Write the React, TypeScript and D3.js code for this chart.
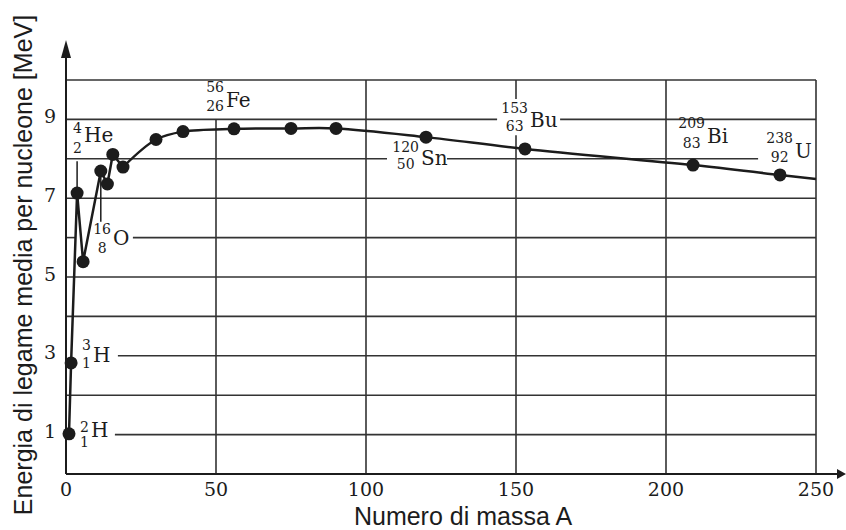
import React from 'react';
import * as d3 from 'd3';

// ---- data ----
const massNumbers = [1, 1.7, 3.7, 5.7, 11.6, 13.8, 15.6, 19, 30, 39, 56, 75, 90, 120, 153, 209, 238];
const bindingEnergy = [1.02, 2.82, 7.13, 5.39, 7.69, 7.36, 8.11, 7.79, 8.49, 8.69, 8.76, 8.77, 8.77, 8.55, 8.25, 7.84, 7.59];
const curveEndMass = 250;
const curveEndEnergy = 7.49;
const jaggedCount = 8; // light nuclei joined by straight segments

const xTicks = [0, 50, 100, 150, 200, 250];
const yTickLabels = [1, 3, 5, 7, 9];

// nuclide labels: anchor (mass, energy) of the symbol baseline start
const nuclideSymbols = ['H', 'H', 'He', 'O', 'Fe', 'Sn', 'Bu', 'Bi', 'U'];
const nuclideMass = ['2', '3', '4', '16', '56', '120', '153', '209', '238'];
const nuclideZ = ['1', '1', '2', '8', '26', '50', '63', '83', '92'];
const labelAnchorA = [8.33, 9, 6, 15.67, 53.33, 118.33, 154.67, 213.67, 243];
const labelAnchorB = [0.94, 2.84, 8.43, 5.81, 9.31, 7.84, 8.81, 8.4, 8.02];
const supDy = [-5, -12, -9, -11, -15, -13, -14, -15, -15];
const subDy = [10, 6, 11, 8, 4, 4, 4, 5, 4];

// gridline segments in data units
const hGridValues = [1, 2, 3, 4, 5, 6, 7, 8, 9, 10];
const hGridSegments: number[][][] = [
  [[16.3, 250]],
  [[0, 250]],
  [[17.3, 250]],
  [[0, 250]],
  [[0, 250]],
  [[0, 3.3], [22.3, 250]],
  [[0, 250]],
  [[0, 107], [127, 230.7]],
  [[0, 143.7], [164.7, 250]],
  [[0, 250]],
];
const vGridValues = [50, 100, 150, 200, 250];
const vGridSegments: number[][][] = [
  [[0, 9]],
  [[0, 10]],
  [[0, 8.6], [9.52, 10]],
  [[0, 10]],
  [[0, 10]],
];
// leader lines: [mass, energyFrom, energyTo]
const leaders = [
  [3.7, 7.13, 7.94],
  [11.6, 7.69, 6.4],
];

export default function App() {
  const W = 846, H = 530;
  const x = d3.scaleLinear().domain([0, 250]).range([66, 816]);
  const y = d3.scaleLinear().domain([0, 10]).range([474, 80]);

  const pts: [number, number][] = massNumbers.map((a, i) => [a, bindingEnergy[i]]);
  const jagged = pts.slice(0, jaggedCount);
  const smooth = [...pts.slice(jaggedCount - 1), [curveEndMass, curveEndEnergy] as [number, number]];
  const lineLin = d3.line<[number, number]>().x(d => x(d[0])).y(d => y(d[1])).curve(d3.curveLinear);
  const lineSm = d3.line<[number, number]>().x(d => x(d[0])).y(d => y(d[1])).curve(d3.curveCatmullRom.alpha(0.5));

  const gridColor = '#333';
  const ink = '#1c1c1c';
  const serif = '"DejaVu Serif", serif';
  const sans = '"Liberation Sans", Arial, sans-serif';
  const supFs = 14;
  const symFs = 20;

  return (
    <svg width={W} height={H} style={{ position: 'absolute', left: 0, top: 0, background: '#fff' }}>
      <rect x={0} y={0} width={W} height={H} fill="#fff" />
      {/* horizontal grid */}
      {hGridValues.map((v, i) =>
        hGridSegments[i].map((s, j) => (
          <line key={`h${i}-${j}`} x1={x(s[0])} x2={x(s[1])} y1={y(v)} y2={y(v)} stroke={gridColor} strokeWidth={1.6} />
        ))
      )}
      {/* vertical grid */}
      {vGridValues.map((v, i) =>
        vGridSegments[i].map((s, j) => (
          <line key={`v${i}-${j}`} x1={x(v)} x2={x(v)} y1={y(s[0])} y2={y(s[1])} stroke={gridColor} strokeWidth={1.6} />
        ))
      )}
      {/* axes */}
      <line x1={x(0)} x2={x(0)} y1={y(0)} y2={55} stroke={ink} strokeWidth={2} />
      <path d={`M${x(0)},40 L${x(0) - 5},58 L${x(0) + 5},58 Z`} fill={ink} />
      <line x1={x(0)} x2={838} y1={y(0)} y2={y(0)} stroke={ink} strokeWidth={2} />
      <path d={`M846,${y(0)} L837,${y(0) - 5} L837,${y(0) + 5} Z`} fill={ink} />

      {/* leader lines */}
      {leaders.map((l, i) => (
        <line key={`l${i}`} x1={x(l[0])} x2={x(l[0])} y1={y(l[1])} y2={y(l[2])} stroke={ink} strokeWidth={1.5} />
      ))}

      {/* curve */}
      <path d={lineLin(jagged) || ''} fill="none" stroke={ink} strokeWidth={2.5} strokeLinejoin="miter" />
      <path d={lineSm(smooth) || ''} fill="none" stroke={ink} strokeWidth={2.5} />
      {pts.map((p, i) => (
        <circle key={`p${i}`} cx={x(p[0])} cy={y(p[1])} r={6.5} fill={ink} />
      ))}

      {/* tick labels */}
      {xTicks.map(t => (
        <text key={`xt${t}`} x={x(t)} y={496} textAnchor="middle" fontFamily={serif} fontSize={19} fill={ink}>{t}</text>
      ))}
      {yTickLabels.map(t => (
        <text key={`yt${t}`} x={50} y={y(t) + 3.5} textAnchor="middle" fontFamily={serif} fontSize={19} fill={ink}>{t}</text>
      ))}

      {/* nuclide labels */}
      {nuclideSymbols.map((s, i) => {
        const sx = x(labelAnchorA[i]);
        const sy = y(labelAnchorB[i]);
        const supW = nuclideMass[i].length * 0.636 * supFs;
        const cx = sx - 2 - supW / 2;
        return (
          <g key={`n${i}`} fill={ink} fontFamily={serif}>
            <text x={sx} y={sy} fontSize={symFs}>{s}</text>
            <text x={cx} y={sy + supDy[i]} fontSize={supFs} textAnchor="middle">{nuclideMass[i]}</text>
            <text x={cx} y={sy + subDy[i]} fontSize={supFs} textAnchor="middle">{nuclideZ[i]}</text>
          </g>
        );
      })}

      {/* axis titles */}
      <text x={463} y={525} textAnchor="middle" fontFamily={sans} fontSize={25} fill={ink}>Numero di massa A</text>
      <text transform="translate(32,265) rotate(-90)" textAnchor="middle" fontFamily={sans} fontSize={25} fill={ink}>
        Energia di legame media per nucleone [MeV]
      </text>
    </svg>
  );
}
